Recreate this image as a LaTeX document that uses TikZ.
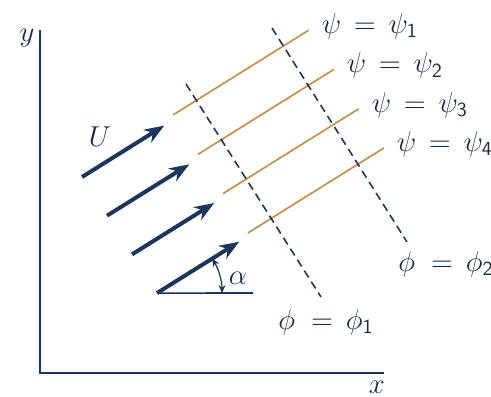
\documentclass[tikz,border=0pt]{standalone}
\usepackage{amsmath,amssymb}
\usetikzlibrary{calc,arrows.meta}
\definecolor{navy}{HTML}{1B365D}
\definecolor{stream}{HTML}{C98A3F}
\begin{document}
\begin{tikzpicture}[x=0.5pt,y=0.5pt,
  flow/.style={navy,line width=2pt,-{Stealth[length=10pt,width=7.5pt]}},
  streamline/.style={stream,line width=0.8pt},
  potline/.style={navy,line width=0.8pt,dash pattern=on 4pt off 2.5pt},
  lbl/.style={text=navy!80!black,font=\Large}]
  \useasboundingbox (0,0) rectangle (491,396);
  % axes
  \coordinate (O) at (40,23);
  \coordinate (ytop) at (40,366);
  \coordinate (xend) at (384,23);
  \draw[navy,line width=1pt] (ytop) -- (O) -- (xend);
  \node[lbl] (ylab) at (27,358) {$y$};
  \node[lbl] (xlab) at (377,9) {$x$};
  % uniform flow arrows, all at angle alpha
  \pgfmathsetmacro{\al}{32}
  \foreach \i in {0,...,3}{
    \coordinate (a\i) at ({82+25*\i},{219-38.7*\i});
    \coordinate (b\i) at ($(a\i)+(\al:97)$);
    \draw[flow] (a\i) -- (b\i);
  }
  \node[lbl] (U) at (100,259) {$U$};
  % streamlines psi = const
  \foreach \i/\n in {0/1,1/2,2/3,3/4}{
    \coordinate (p\i) at ({173+25*\i},{281-39.3*\i});
    \coordinate (q\i) at ($(p\i)+(\al:160)$);
    \draw[streamline] (p\i) -- (q\i);
    \node[lbl,anchor=west] (psi\n) at ($(q\i)+(6,4)$) {$\psi\,=\,\psi_{\mathsf{\n}}$};
  }
  % equipotential lines phi = const (dashed, normal to the streamlines)
  \coordinate (f1a) at (186,312); \coordinate (f1b) at (321,99);
  \coordinate (f2a) at (272,368); \coordinate (f2b) at (407,154);
  \draw[potline] (f1a) -- (f1b);
  \draw[potline] (f2a) -- (f2b);
  \node[lbl] (phi1) at (326,74) {$\phi\;=\,\phi_{\mathsf{1}}$};
  \node[lbl] (phi2) at (446,132) {$\phi\;=\,\phi_{\mathsf{2}}$};
  % angle alpha on the lowest arrow
  \coordinate (h) at (253,103);
  \draw[navy,line width=0.8pt] (a3) -- (h);
  \draw[navy,line width=0.6pt,{Stealth[length=4pt,width=3.5pt]}-{Stealth[length=4pt,width=3.5pt]}] ($(a3)+(65,0)$) arc (0:\al:65);
  \node[lbl] (alpha) at (238,118) {$\alpha$};
\end{tikzpicture}
\end{document}
